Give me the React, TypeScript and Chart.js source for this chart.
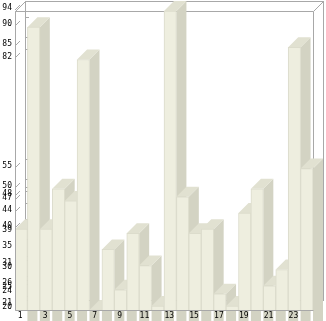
import { useEffect, useRef } from "react";
import { Chart, registerables } from "chart.js";

Chart.register(...registerables);

const categories = ["1","2","3","4","5","6","7","8","9","10","11","12","13","14","15","16","17","18","19","20","21","22","23","24"];
const values = [40, 90, 40, 50, 47, 82, 20, 35, 25, 39, 31, 21, 94, 48, 39, 40, 24, 21, 44, 50, 26, 30, 85, 55];
const yTickValues = [94, 90, 85, 82, 55, 50, 48, 47, 44, 40, 39, 35, 31, 30, 26, 25, 24, 21, 20];
const xTickLabels = ["1","3","5","7","9","11","13","15","17","19","21","23"];
const yMin = 20;
const yMax = 94;

const DX = 10;
const DY = -10;
const FRONT = "#eeeedf";
const TOP = "#e1e1d1";
const SIDE = "#d3d3c3";
const EDGE = "#dcdccc";
const FRAME = "#a8a8a8";
const FONT = '8px "DejaVu Sans Mono"';

const bars3d = {
  id: "bars3d",
  beforeDatasetsDraw(chart: any) {
    const { ctx, chartArea: a } = chart;
    ctx.save();
    ctx.lineWidth = 1;
    ctx.strokeStyle = FRAME;
    ctx.strokeRect(a.left + DX + 0.5, a.top + DY + 0.5, a.right - a.left, a.bottom - a.top);
    ctx.beginPath();
    ctx.moveTo(a.left + 0.5, a.top + 0.5);
    ctx.lineTo(a.right + 0.5, a.top + 0.5);
    ctx.moveTo(a.left + 0.5, a.top + 0.5);
    ctx.lineTo(a.left + 0.5, a.bottom + 0.5);
    ctx.moveTo(a.right + 0.5, a.top + 0.5);
    ctx.lineTo(a.right + 0.5, a.bottom + 0.5);
    ctx.moveTo(a.left + 0.5, a.top + 0.5);
    ctx.lineTo(a.left + DX + 0.5, a.top + DY + 0.5);
    ctx.moveTo(a.right + 0.5, a.top + 0.5);
    ctx.lineTo(a.right + DX + 0.5, a.top + DY + 0.5);
    ctx.moveTo(a.right + 0.5, a.bottom + 0.5);
    ctx.lineTo(a.right + DX + 0.5, a.bottom + DY + 0.5);
    ctx.stroke();

    const ys = chart.scales.y;
    ctx.beginPath();
    yTickValues.forEach((v) => {
      const py = Math.round(ys.getPixelForValue(v));
      ctx.moveTo(a.left, py - 1);
      ctx.lineTo(a.left + 5, py - 6);
      ctx.moveTo(a.left + DX, py + DY + 0.5);
      ctx.lineTo(a.left + DX + 4, py + DY + 0.5);
    });
    ctx.stroke();

    const meta = chart.getDatasetMeta(0);
    meta.data.forEach((el: any) => {
      const { x, y, base, width } = el.getProps(["x", "y", "base", "width"], true);
      const l = x - width / 2;
      const r = x + width / 2;
      ctx.fillStyle = SIDE;
      ctx.beginPath();
      ctx.moveTo(r, y);
      ctx.lineTo(r + DX, y + DY);
      ctx.lineTo(r + DX, base + DY);
      ctx.lineTo(r, base);
      ctx.closePath();
      ctx.fill();
      ctx.fillStyle = TOP;
      ctx.beginPath();
      ctx.moveTo(l, y);
      ctx.lineTo(l + DX, y + DY);
      ctx.lineTo(r + DX, y + DY);
      ctx.lineTo(r, y);
      ctx.closePath();
      ctx.fill();
    });
    ctx.restore();
  },
  afterDatasetsDraw(chart: any) {
    const { ctx, chartArea: a } = chart;
    ctx.save();
    ctx.strokeStyle = FRAME;
    ctx.lineWidth = 1;
    ctx.beginPath();
    ctx.moveTo(a.left + 0.5, a.bottom + 0.5);
    ctx.lineTo(a.right + 0.5, a.bottom + 0.5);
    ctx.moveTo(a.left + 0.5, a.top + 0.5);
    ctx.lineTo(a.left + 0.5, a.bottom + 0.5);
    ctx.stroke();

    ctx.fillStyle = "#000";
    ctx.font = FONT;
    ctx.textAlign = "right";
    ctx.textBaseline = "middle";
    const ys = chart.scales.y;
    yTickValues.forEach((v) => {
      const py = ys.getPixelForValue(v);
      ctx.fillText(String(v), a.left - 3, py - 3);
    });
    const xs = chart.scales.x;
    ctx.textAlign = "center";
    xTickLabels.forEach((lab) => {
      const idx = categories.indexOf(lab);
      const px = xs.getPixelForValue(idx);
      ctx.fillText(lab, px - 1, a.bottom + 6);
    });
    ctx.restore();
  },
};

export default function App() {
  const ref = useRef<HTMLCanvasElement>(null);
  useEffect(() => {
    document.body.style.margin = "0";
    const chart = new Chart(ref.current!, {
      type: "bar",
      data: {
        labels: categories,
        datasets: [
          {
            data: values,
            backgroundColor: FRONT,
            borderColor: EDGE,
            borderWidth: 1,
            categoryPercentage: 1,
            barPercentage: 1,
          } as any,
        ],
      },
      options: {
        responsive: false,
        animation: false,
        layout: { padding: { left: 15, right: 13, top: 11, bottom: 11 } },
        plugins: { legend: { display: false }, tooltip: { enabled: false } },
        scales: {
          x: { display: false },
          y: { display: false, min: yMin, max: yMax },
        },
      },
      plugins: [bars3d],
    });
    return () => chart.destroy();
  }, []);
  return <canvas ref={ref} width={326} height={321} style={{ display: "block" }} />;
}
